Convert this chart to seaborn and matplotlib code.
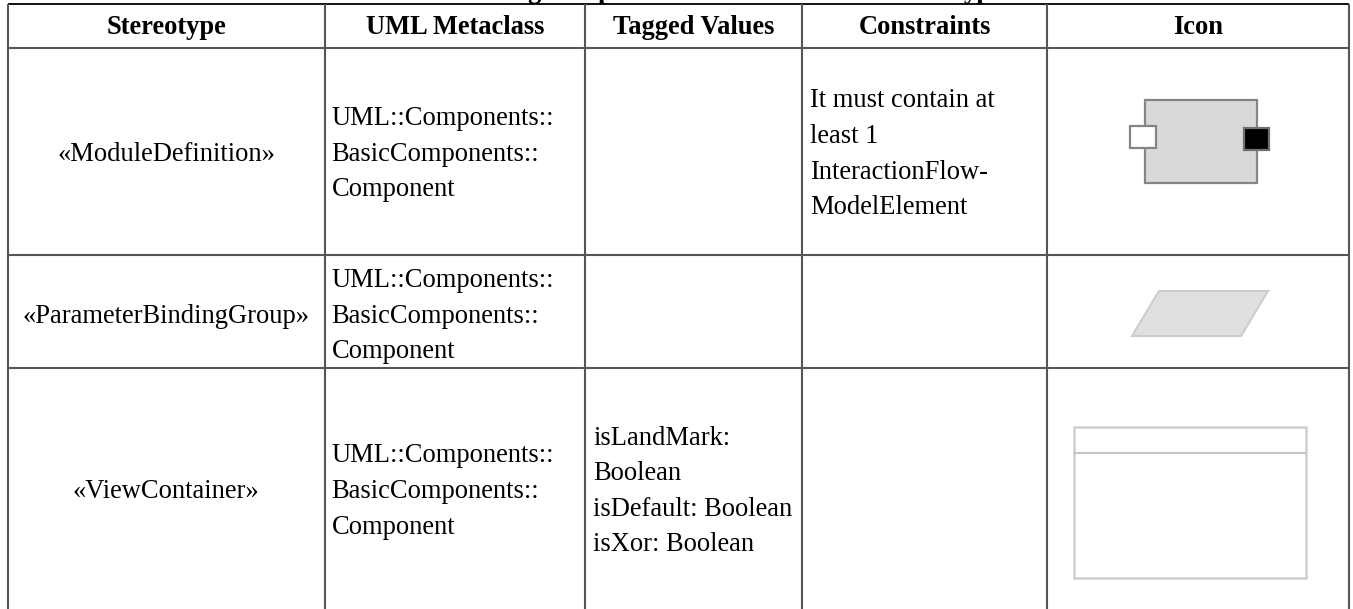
import matplotlib
matplotlib.use('Agg')
import matplotlib.pyplot as plt
from matplotlib.patches import Polygon, Rectangle
import seaborn as sns

# Table content
headers = ['Stereotype', 'UML Metaclass', 'Tagged Values', 'Constraints', 'Icon']
stereotypes = ['«ModuleDefinition»', '«ParameterBindingGroup»', '«ViewContainer»']
metaclass = 'UML::Components::\nBasicComponents::\nComponent'
tagged_values = ['', '', 'isLandMark:\nBoolean\nisDefault: Boolean\nisXor: Boolean']
constraints = ['It must contain at\nleast 1\nInteractionFlow-\nModelElement', '', '']

# Caption is cut off by the top edge in the reference too, only the descenders show
caption_bits = ['g', 'p', 'yp']
caption_x = [534, 605, 978]

# Grid positions in image pixels
col_edges = [8, 324.5, 585, 802, 1047, 1349]
row_edges = [4, 48, 254.5, 368, 609]
row_shift = [3, 5, 3]

FS = 19.1
LS = 1.56


def draw_grid(ax):
    ax.hlines(row_edges[0], col_edges[0], col_edges[-1], color='#111111', lw=1.4)
    ax.hlines(row_edges[1:-1], col_edges[0], col_edges[-1], color='#555555', lw=1.5)
    ax.vlines(col_edges, row_edges[0], row_edges[-1], color='#555555', lw=1.5)


def draw_text(ax):
    for bit, x in zip(caption_bits, caption_x):
        ax.text(x, -2.5, bit, ha='center', va='baseline', fontweight='bold', fontsize=FS,
                color='black', clip_on=False)
    for i, h in enumerate(headers):
        cx = (col_edges[i] + col_edges[i + 1]) / 2
        ax.text(cx, 27, h, ha='center', va='center', fontweight='bold', fontsize=FS, color='black')
    for r in range(3):
        cy = (row_edges[r + 1] + row_edges[r + 2]) / 2 + row_shift[r]
        cx = (col_edges[0] + col_edges[1]) / 2
        ax.text(cx, cy, stereotypes[r], ha='center', va='center', fontsize=FS, color='black')
        ax.text(col_edges[1] + 7, cy, metaclass, ha='left', va='center', fontsize=FS,
                linespacing=LS, color='black')
        ax.text(col_edges[2] + 8, cy, tagged_values[r], ha='left', va='center', fontsize=FS,
                linespacing=LS, color='black')
        ax.text(col_edges[3] + 8, cy, constraints[r], ha='left', va='center', fontsize=FS,
                linespacing=LS, color='black')


def draw_icons(ax):
    # Module definition
    ax.add_patch(Rectangle((1145, 100), 112, 83, fc='#d9d9d9', ec='#858585', lw=1.6))
    ax.add_patch(Rectangle((1130, 126), 26, 22, fc='white', ec='#858585', lw=1.6))
    ax.add_patch(Rectangle((1244, 128), 25, 22, fc='black', ec='#707070', lw=1.6))
    # Parameter binding group
    ax.add_patch(Polygon([(1159, 291), (1268, 291), (1241, 336), (1132, 336)], fc='#e0e0e0', ec='#cccccc', lw=1.5))
    # View container
    ax.add_patch(Rectangle((1074, 427), 232, 151, fc='white', ec='#cfcfcf', lw=1.8))
    ax.hlines(453, 1074, 1306, color='#c4c4c4', lw=1.5)


sns.set_theme(style='white')
plt.rcParams['font.family'] = ['Liberation Serif', 'DejaVu Serif']

fig, ax = plt.subplots(figsize=(13.53, 6.09), dpi=100)
ax.set_position([0, 0, 1, 1])
ax.set_xlim(0, 1353)
ax.set_ylim(609, 0)
ax.axis('off')

draw_grid(ax)
draw_text(ax)
draw_icons(ax)

fig.savefig('out.png', dpi=100)
